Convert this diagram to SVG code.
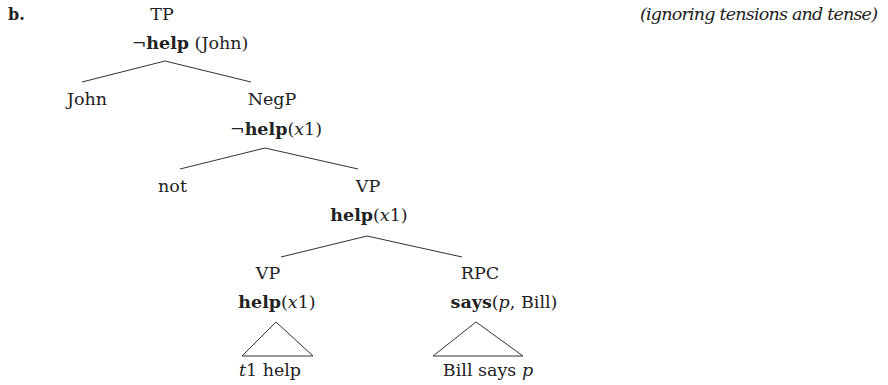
<svg xmlns="http://www.w3.org/2000/svg" width="888" height="385" viewBox="0 0 888 385">
<style>
text{font-family:"DejaVu Serif","Liberation Serif",serif;font-size:17.5px;fill:#222}
.m{text-anchor:middle}
.b{font-weight:bold}
.i{font-style:italic}
.e line,.e path{stroke:#333;stroke-width:1;fill:none}
</style>
<rect width="888" height="385" fill="#fff"/>
<text x="8" y="20" class="b" style="font-size:16px">b.</text>
<text x="640" y="20" class="i" textLength="238">(ignoring tensions and tense)</text>
<g id="tp"><text x="162" y="20" class="m">TP</text><text x="190" y="49" class="m"><tspan>¬</tspan><tspan class="b">help</tspan> (John)</text></g>
<g id="john"><text x="87" y="105" class="m">John</text></g>
<g id="negp"><text x="272" y="105" class="m">NegP</text><text x="276" y="135" class="m"><tspan>¬</tspan><tspan class="b">help</tspan>(<tspan class="i">x</tspan>1)</text></g>
<g id="not"><text x="172.5" y="192" class="m">not</text></g>
<g id="vp1"><text x="368" y="192" class="m">VP</text><text x="369" y="221" class="m"><tspan class="b">help</tspan>(<tspan class="i">x</tspan>1)</text></g>
<g id="vp2"><text x="268" y="279" class="m">VP</text><text x="277" y="308" class="m"><tspan class="b">help</tspan>(<tspan class="i">x</tspan>1)</text></g>
<g id="rpc"><text x="480" y="279" class="m">RPC</text><text x="504" y="308" class="m"><tspan class="b">says</tspan>(<tspan class="i">p</tspan>, Bill)</text></g>
<g id="t1help"><text x="270" y="376" class="m"><tspan class="i">t</tspan>1 help</text></g>
<g id="billsays"><text x="488" y="376" class="m">Bill says <tspan class="i">p</tspan></text></g>
<g id="connectors" class="e">
<line x1="165" y1="61" x2="82" y2="82"/><line x1="165" y1="61" x2="251" y2="82"/>
<line x1="265" y1="148" x2="180" y2="169"/><line x1="265" y1="148" x2="358" y2="169"/>
<line x1="367" y1="236" x2="281" y2="257"/><line x1="367" y1="236" x2="462" y2="257"/>
<path d="M276 322 L242 356 L313 356 Z"/>
<path d="M476 322 L433 356 L523 356 Z"/>
</g>
</svg>
